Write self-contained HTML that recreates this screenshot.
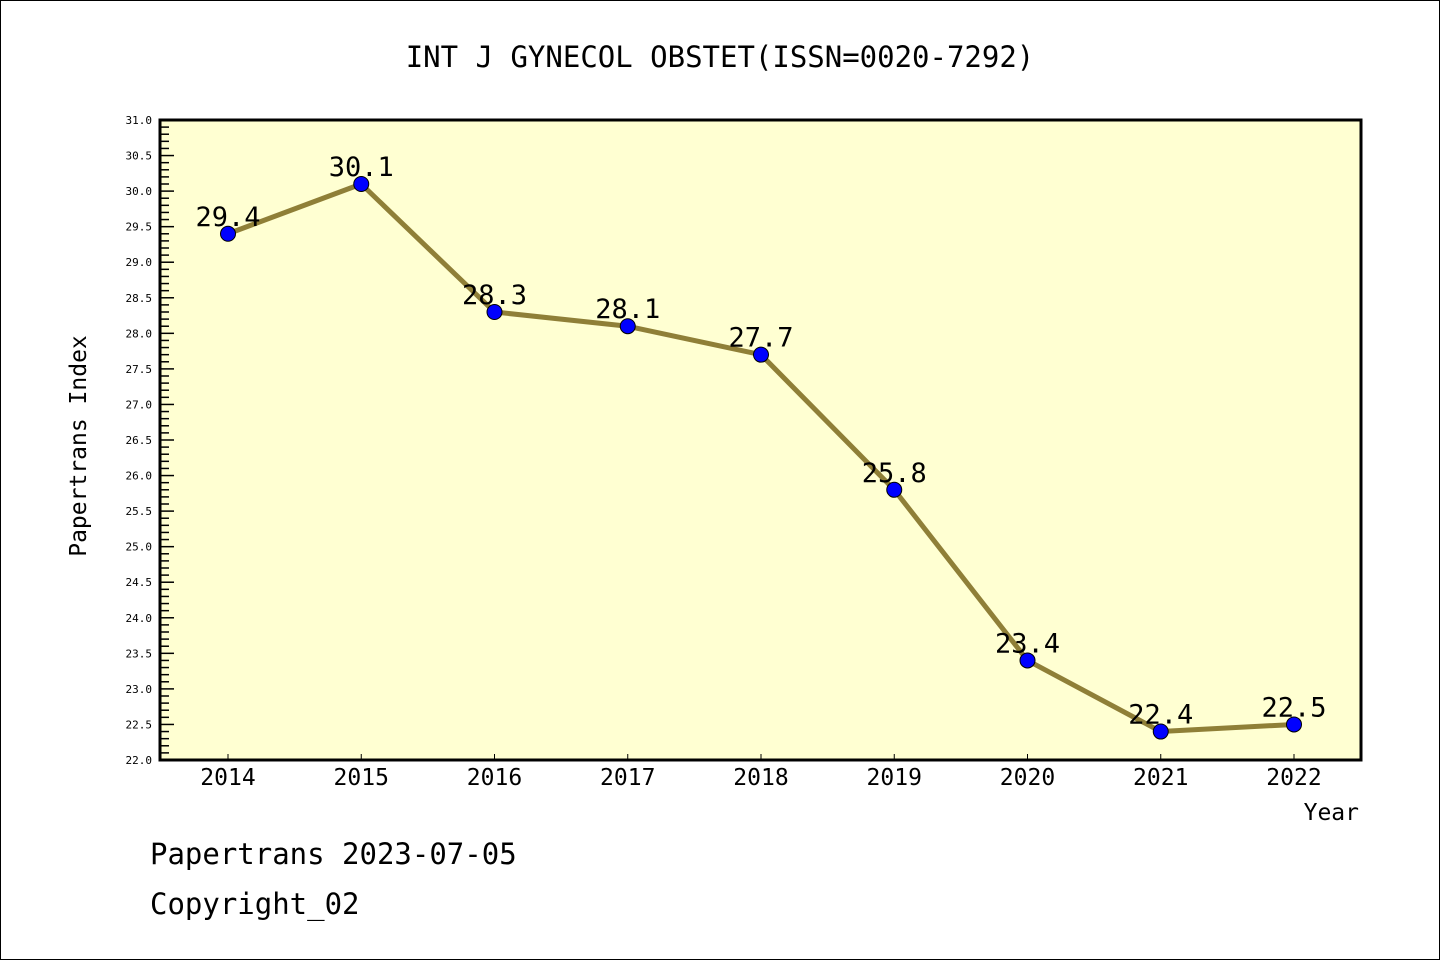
<!DOCTYPE html>
<html><head><meta charset="utf-8"><style>
html,body{margin:0;padding:0;background:#fff}
svg{display:block}
text{font-family:"DejaVu Sans Mono","Liberation Mono",monospace;fill:#000}
</style></head><body>
<svg id="chart" width="1440" height="960">
<rect x="0.5" y="0.5" width="1439" height="959" fill="#fff" stroke="#000"/>
<text x="720" y="67" font-size="29" text-anchor="middle">INT J GYNECOL OBSTET(ISSN=0020-7292)</text>
<rect x="160" y="120" width="1201" height="640" fill="#ffffd2"/>
<g id="yaxis"></g><g id="xaxis"></g><g id="series"></g>
<rect x="160" y="120" width="1201" height="640" fill="none" stroke="#000" stroke-width="3"/>
<text x="86" y="446" font-size="23" text-anchor="middle" transform="rotate(-90 86 446)">Papertrans Index</text>
<text x="1359" y="820" font-size="23" text-anchor="end">Year</text>
<text x="150" y="864" font-size="29">Papertrans 2023-07-05</text>
<text x="150" y="914" font-size="29">Copyright_02</text>
</svg>
<script>
const years = ["2014","2015","2016","2017","2018","2019","2020","2021","2022"];
const values = [29.4,30.1,28.3,28.1,27.7,25.8,23.4,22.4,22.5];
const valueLabels = ["29.4","30.1","28.3","28.1","27.7","25.8","23.4","22.4","22.5"];
const yMin = 22.0, yMax = 31.0;
const NS="http://www.w3.org/2000/svg";
function ys(v){return 760-(v-yMin)/(yMax-yMin)*640;}
function xs(i){return 228+i*(1294-228)/(years.length-1);}
function mk(tag,attrs,parent){const e=document.createElementNS(NS,tag);for(const k in attrs)e.setAttribute(k,attrs[k]);parent.appendChild(e);return e;}
const yg=document.getElementById('yaxis');
for(let k=0;k<=Math.round((yMax-yMin)*10);k++){
  const v=yMin+k/10, y=ys(v), major=k%5===0;
  const t=mk('line',{x1:160,x2:160+(major?14:9),y1:y,y2:y,stroke:'#000','stroke-width':1.5},yg);
  
  
  if(major){
    const l=mk('text',{x:152,y:y+4,'font-size':11,'text-anchor':'end'},yg);
    l.textContent=v.toFixed(1);
    
    
  }
}
const xg=document.getElementById('xaxis');
years.forEach((yr,i)=>{
  const x=xs(i);
  const t=mk('line',{x1:x,x2:x,y1:760,y2:754,stroke:'#000','stroke-width':1},xg);
  
  
  const l=mk('text',{x:x,y:785,'font-size':23,'text-anchor':'middle'},xg);
  l.textContent=yr;
  
  
});
const sg=document.getElementById('series');
const pts=values.map((v,i)=>xs(i)+','+ys(v)).join(' ');
const line=mk('polyline',{points:pts,fill:'none',stroke:'#8f7f37','stroke-width':5,'stroke-linejoin':'round'},sg);


values.forEach((v,i)=>{
  const c=mk('circle',{cx:xs(i),cy:ys(v),r:7.5,fill:'#0000ff',stroke:'#000','stroke-width':1},sg);
  
  
  const l=mk('text',{x:xs(i),y:ys(v)-8,'font-size':27,'text-anchor':'middle'},sg);
  l.textContent=valueLabels[i];
  
  
});
</script>
</body></html>
